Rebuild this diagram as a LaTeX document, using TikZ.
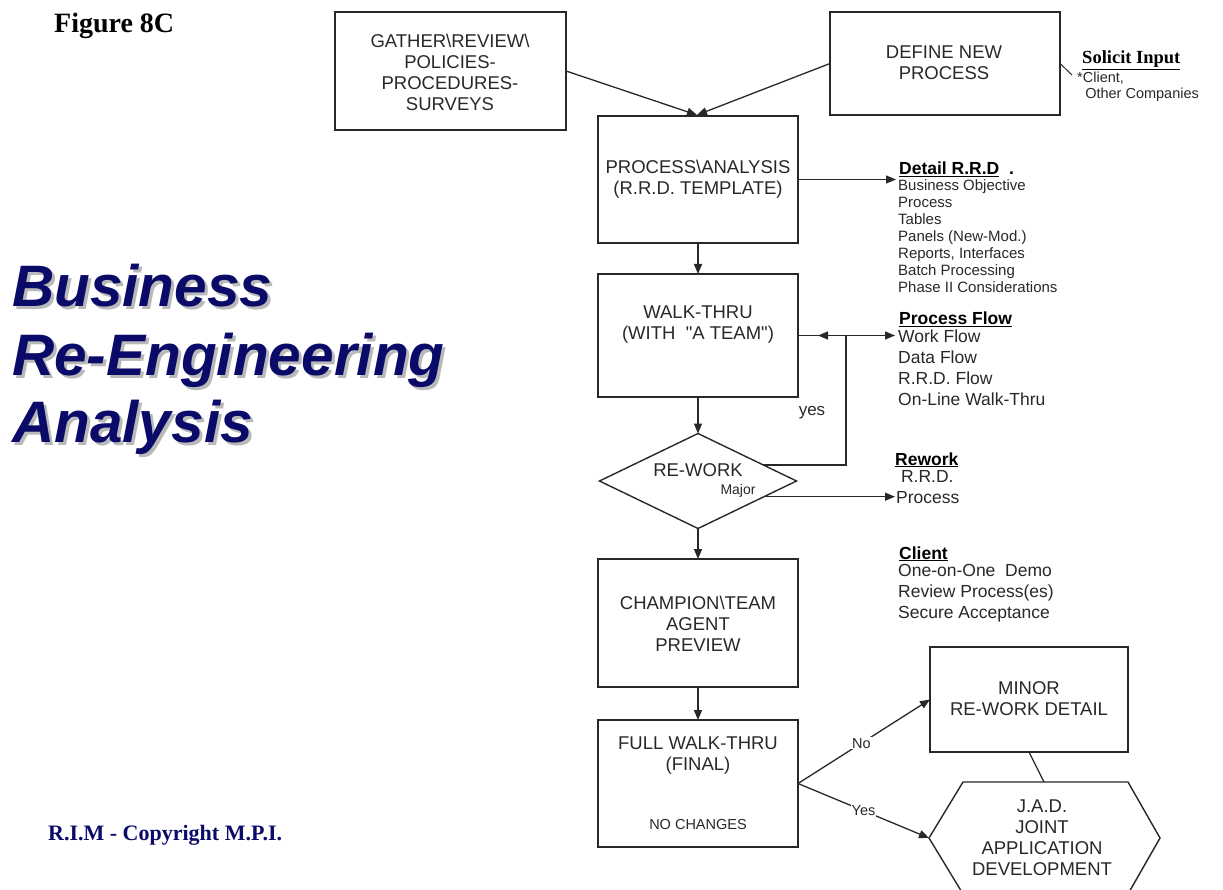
\documentclass[tikz,border=0pt]{standalone}
\usepackage{fontspec}
\setmainfont{Liberation Sans}[Ligatures=TeXOff]
\newfontfamily\tnr{Liberation Serif}
\usetikzlibrary{arrows.meta,shapes.geometric,calc}
\definecolor{navy}{RGB}{10,10,105}
\definecolor{shadowgray}{RGB}{185,185,185}
\definecolor{lg}{RGB}{40,40,40}
\begin{document}
\begin{tikzpicture}[x=1pt,y=-1pt,
  box/.style={draw=lg,line width=1.4pt,inner sep=0pt,outer sep=0pt},
  bt/.style={font=\fontsize{18.5}{21}\selectfont,align=center,inner sep=0pt,text=lg},
  st/.style={font=\fontsize{15}{17}\selectfont,align=left,inner sep=0pt,anchor=north west,text=lg},
  mt/.style={font=\fontsize{17.5}{21}\selectfont,align=left,inner sep=0pt,anchor=north west,text=lg},
  hd/.style={font=\bfseries\fontsize{17.5}{21}\selectfont,inner sep=0pt,anchor=base west,text=black},
  lbl/.style={font=\fontsize{14.5}{17}\selectfont,inner sep=1pt,fill=white,text=lg},
  ln/.style={line width=1.3pt,draw=lg},
  conn/.style={ln,-{Triangle[length=10pt,width=8pt]}},
  title/.style={font=\bfseries\itshape\fontsize{58.5}{66}\selectfont,inner sep=0pt,anchor=base west}]
\useasboundingbox (0,0) rectangle (1223,890);
\clip (0,0) rectangle (1223,890);

% left titles
\node[font=\tnr\bfseries\fontsize{28}{30}\selectfont,inner sep=0pt,anchor=base west] (fig) at (54,33) {Figure 8C};
\foreach \t/\y/\n in {Business/307/tA,Re-Engineering/375/tB,Analysis/442/tC}{
  \node[title,text=shadowgray] (\n s) at (15,\y+3) {\t};
  \node[title,text=navy] (\n) at (12,\y) {\t};
}
\node[font=\tnr\bfseries\fontsize{22}{24}\selectfont,inner sep=0pt,anchor=base west,text=navy] (copy) at (48,840) {R.I.M - Copyright M.P.I.};

% boxes
\node[box,minimum width=231pt,minimum height=118pt] (gather) at (450.5,71) {};
\node[box,minimum width=230pt,minimum height=103pt] (define) at (945,63.5) {};
\node[box,minimum width=200pt,minimum height=127pt] (proc) at (698,179.5) {};
\node[box,minimum width=200pt,minimum height=123pt] (walk) at (698,335.5) {};
\node[box,diamond,minimum width=197pt,minimum height=95pt] (rw) at (698,481) {};
\node[box,minimum width=200pt,minimum height=128pt] (champ) at (698,623) {};
\node[box,minimum width=200pt,minimum height=127pt] (full) at (698,783.5) {};
\node[box,minimum width=198pt,minimum height=105pt] (minor) at (1029,699.5) {};
\coordinate (jadL) at (929,838);
\coordinate (jadT) at (1044,782);
\draw[ln,line width=1.4pt] (963,782) -- (1128,782) -- (1160,838) -- (1128,894) -- (963,894) -- (jadL) -- cycle;

% box texts
\node[bt] (gatherT) at (450,72) {GATHER\textbackslash REVIEW\textbackslash\\POLICIES-\\PROCEDURES-\\SURVEYS};
\node[bt] (defineT) at (944,63) {DEFINE NEW\\PROCESS};
\node[bt] (procT) at (698,179) {PROCESS\textbackslash ANALYSIS\\(R.R.D. TEMPLATE)};
\node[bt] (walkT) at (698,325) {WALK-THRU\\(WITH\ \ "A TEAM")};
\node[bt] (rwT) at (698,470) {RE-WORK};
\node[font=\fontsize{14}{16}\selectfont,inner sep=0pt,text=lg] (major) at (738,491) {Major};
\node[bt] (champT) at (698,624) {CHAMPION\textbackslash TEAM\\AGENT\\PREVIEW};
\node[bt] (fullT) at (698,756) {FULL WALK-THRU\\(FINAL)};
\node[font=\fontsize{14.5}{16}\selectfont,inner sep=0pt,text=lg] (nochg) at (698,825) {NO CHANGES};
\node[bt] (minorT) at (1029,699) {MINOR\\RE-WORK DETAIL};
\node[bt] (jadT1) at (1042,838) {J.A.D.\\JOINT\\APPLICATION\\DEVELOPMENT};

% side notes
\node[font=\tnr\bfseries\fontsize{18.5}{20}\selectfont,inner sep=0pt,anchor=base west] (sol) at (1082,64) {\underline{Solicit Input}};
\node[font=\fontsize{14.5}{16}\selectfont,inner sep=0pt,anchor=north west,align=left,text=lg] (solL) at (1077,72) {*Client,\\\ \ Other Companies};
\draw[ln,line width=1pt] (define.east) -- (1072,75);

\node[hd] (det) at (899,175) {\underline{Detail R.R.D}\ \ .};
\node[st] (detL) at (898,179) {Business Objective\\Process\\Tables\\Panels (New-Mod.)\\Reports, Interfaces\\Batch Processing\\Phase II Considerations};

\node[hd] (pf) at (899,325) {\underline{Process Flow}};
\node[mt] (pfL) at (898,330) {Work Flow\\Data Flow\\R.R.D. Flow\\On-Line Walk-Thru};

\node[hd] (rwk) at (895,465) {\underline{Rework}};
\node[mt] (rwkL) at (896,470) {\ R.R.D.\\Process};

\node[hd] (cl) at (899,559) {\underline{Client}};
\node[mt] (clL) at (898,564) {One-on-One\ \ Demo\\Review Process(es)\\Secure Acceptance};

% connectors
\coordinate (merge) at (697,115);
\draw[conn] (gather.east) -- (merge);
\draw[conn] (define.west) -- (merge);
\coordinate (detIn) at (896,179.5);
\draw[conn] (proc.east) -- (detIn);
\draw[conn] (proc.south) -- (walk.north);
\coordinate (pfIn) at (895,335.5);
\draw[conn] (walk.east) -- (pfIn);
\coordinate (loopx) at (846,0);
\coordinate (loopEnd) at (818,335.5);
\coordinate (rwA) at ($(rw.north)!0.66!(rw.east)$);
\draw[conn] (rwA) -- (rwA -| loopx) |- (loopEnd);
\node[font=\fontsize{17}{20}\selectfont,inner sep=0pt,text=lg] (yes) at (812,413) {yes};
\coordinate (rwB) at ($(rw.east)!0.33!(rw.south)$);
\coordinate (rwkIn) at (895,0);
\draw[conn] (rwB) -- (rwB -| rwkIn);
\draw[conn] (walk.south) -- (rw.north);
\draw[conn] (rw.south) -- (champ.north);
\draw[conn] (champ.south) -- (full.north);
\draw[conn] (full.east) -- node[lbl,pos=0.48] (no) {No} (minor.west);
\draw[conn] (full.east) -- node[lbl,pos=0.5] (yesB) {Yes} (jadL);
\draw[ln] (minor.south) -- (jadT);
\end{tikzpicture}
\end{document}
